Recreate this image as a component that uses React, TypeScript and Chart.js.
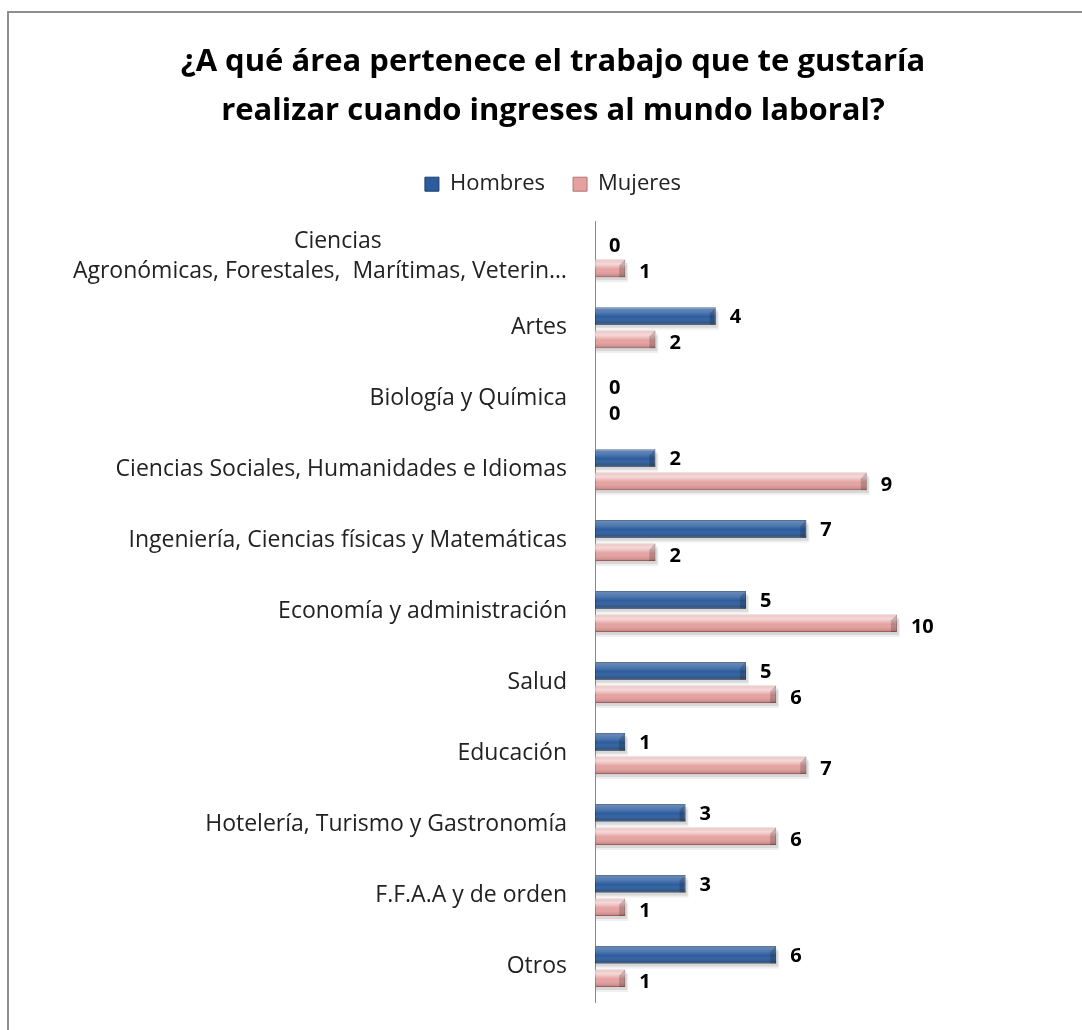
import React, { useEffect, useRef } from "react";
import { Chart, registerables } from "chart.js";

Chart.register(...registerables);

const categories: (string | string[])[] = [
  ["Ciencias" + " ".repeat(31), "Agronómicas, Forestales,  Marítimas, Veterin…"],
  "Artes",
  "Biología y Química",
  "Ciencias Sociales, Humanidades e Idiomas",
  "Ingeniería, Ciencias físicas y Matemáticas",
  "Economía y administración",
  "Salud",
  "Educación",
  "Hotelería, Turismo y Gastronomía",
  "F.F.A.A y de orden",
  "Otros",
];
const hombres = [0, 4, 0, 2, 7, 5, 5, 1, 3, 3, 6];
const mujeres = [1, 2, 0, 9, 2, 10, 6, 7, 6, 1, 1];
const titleLines = [
  "¿A qué área pertenece el trabajo que te gustaría",
  "realizar cuando ingreses al mundo laboral?",
];

const FONT = "'Open Sans', 'DejaVu Sans', sans-serif";

const legendSpacer = {
  id: "legendSpacer",
  afterInit(chart: any) {
    const lg = chart.legend;
    if (lg && !lg.__patched) {
      const orig = lg.fit;
      lg.fit = function () {
        orig.call(this);
        this.height += 16;
      };
      lg.__patched = true;
    }
  },
};

const barShine = {
  id: "barShine",
  beforeDatasetsDraw(chart: any) {
    const ctx = chart.ctx;
    chart.data.datasets.forEach((ds: any, di: number) => {
      const meta = chart.getDatasetMeta(di);
      meta.data.forEach((el: any) => {
        const { x, y, base, height } = el.getProps(["x", "y", "base", "height"], true);
        const w = x - base;
        if (w > 0.5) {
          ctx.save();
          ctx.fillStyle = "rgba(0,0,0,0.10)";
          ctx.fillRect(base + 1, y - height / 2 + 3, w + 1, height);
          ctx.fillStyle = "rgba(0,0,0,0.06)";
          ctx.fillRect(base + 1, y - height / 2 + 5, w + 2, height);
          ctx.restore();
        }
      });
    });
  },
  afterDatasetsDraw(chart: any) {
    const ctx = chart.ctx;
    chart.data.datasets.forEach((ds: any, di: number) => {
      const meta = chart.getDatasetMeta(di);
      meta.data.forEach((el: any, i: number) => {
        const { x, y, base, height } = el.getProps(["x", "y", "base", "height"], true);
        const w = x - base;
        if (w > 0.5) {
          const top = y - height / 2;
          const g = ctx.createLinearGradient(0, top, 0, top + height);
          if (di === 0) {
            g.addColorStop(0, "rgba(255,255,255,0.30)");
            g.addColorStop(0.3, "rgba(255,255,255,0.18)");
            g.addColorStop(0.55, "rgba(255,255,255,0.0)");
            g.addColorStop(1, "rgba(0,0,0,0.30)");
          } else {
            g.addColorStop(0, "rgba(255,255,255,0.35)");
            g.addColorStop(0.25, "rgba(255,255,255,0.6)");
            g.addColorStop(0.55, "rgba(255,255,255,0.0)");
            g.addColorStop(1, "rgba(90,30,30,0.30)");
          }
          ctx.save();
          ctx.fillStyle = g;
          ctx.fillRect(base, top, w, height);
          // bevelled end
          const b = Math.min(6, w / 2);
          ctx.fillStyle = "rgba(0,0,0,0.18)";
          ctx.beginPath();
          ctx.moveTo(x, top);
          ctx.lineTo(x - b, top + b);
          ctx.lineTo(x - b, top + height);
          ctx.lineTo(x, top + height);
          ctx.closePath();
          ctx.fill();
          ctx.restore();
        }
        const v = ds.data[i];
        ctx.save();
        ctx.font = `bold 20px ${FONT}`;
        ctx.fillStyle = "#000";
        ctx.textAlign = "left";
        ctx.textBaseline = "middle";
        ctx.fillText(String(v), x + 14, y + (di === 1 ? 4 : 1));
        ctx.restore();
      });
    });
  },
};

export default function App() {
  const ref = useRef<HTMLCanvasElement>(null);
  useEffect(() => {
    document.body.style.margin = "0";
    const chart = new Chart(ref.current!, {
      type: "bar",
      data: {
        labels: categories,
        datasets: [
          {
            label: "Hombres",
            data: hombres,
            backgroundColor: "#2B5C9E",
            borderColor: "#1C3D6C",
            borderWidth: 1,
            borderSkipped: false,
            categoryPercentage: 0.66,
            barPercentage: 0.75,
          },
          {
            label: "Mujeres",
            data: mujeres,
            backgroundColor: "#E4A19F",
            borderColor: "#B07574",
            borderWidth: 1,
            borderSkipped: false,
            categoryPercentage: 0.66,
            barPercentage: 0.75,
          },
        ],
      },
      options: {
        indexAxis: "y",
        animation: false,
        responsive: false,
        devicePixelRatio: 1,
        layout: { padding: { top: 37, right: 0, bottom: 28, left: 24 } },
        plugins: {
          title: {
            display: true,
            text: titleLines,
            color: "#000",
            font: { family: FONT, size: 31, weight: "bold", lineHeight: 1.6 },
            padding: { top: 0, bottom: 9 },
          },
          legend: {
            display: true,
            labels: {
              color: "#222",
              font: { family: FONT, size: 22 },
              boxWidth: 14,
              boxHeight: 14,
              padding: 28,
            },
          },
          tooltip: { enabled: false },
        },
        scales: {
          x: {
            display: false,
            min: 0,
            max: 16.13,
            ticks: { display: false },
            grid: { display: false, drawTicks: false },
            border: { display: false },
          },
          y: {
            grid: { display: false, drawTicks: false },
            border: { display: true, color: "#888", width: 1 },
            ticks: {
              color: "#222",
              font: { family: FONT, size: 23, lineHeight: 1.3 },
              padding: 28,
            },
            afterFit: (axis: any) => {
              axis.width = 571;
              axis.paddingTop = 0;
              axis.paddingBottom = 0;
            },
          },
        },
      },
      plugins: [legendSpacer, barShine],
    });
    return () => chart.destroy();
  }, []);
  return (
    <div style={{ position: "absolute", left: 0, top: 0, width: 1082, height: 1030, overflow: "hidden", background: "#fff" }}>
      <div
        style={{
          position: "absolute",
          left: 7,
          top: 11,
          width: 1200,
          height: 1200,
          border: "2px solid #8f8f8f",
        }}
      />
      <canvas ref={ref} width={1082} height={1030} style={{ position: "absolute", left: 0, top: 0 }} />
    </div>
  );
}
